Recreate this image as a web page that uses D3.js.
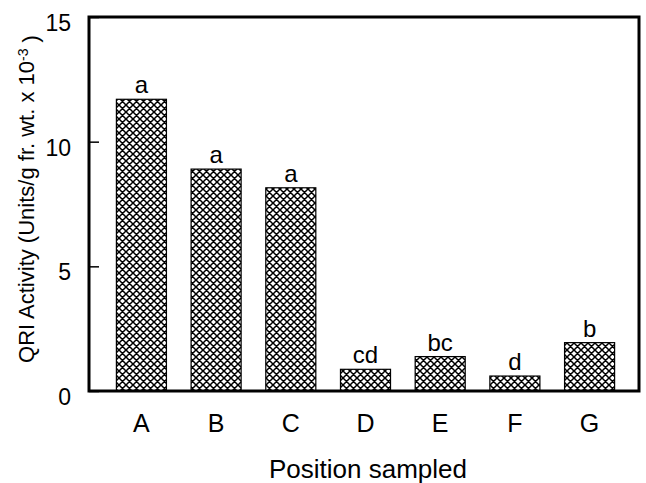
<!DOCTYPE html>
<html lang="en">
<head>
    <meta charset="utf-8">
    <title>QRI Activity by Position sampled</title>
    <script type="text/javascript" src="https://d3js.org/d3.v7.min.js"></script>
    <style>
        body { margin: 0; background: #fff; }
        text { font-family: "Liberation Sans", Arial, Helvetica, sans-serif; fill: #000; }
    </style>
</head>
<body>
    <div id="chart"></div>

    <script type="text/javascript">

        // Data
        var positions = ["A", "B", "C", "D", "E", "F", "G"];
        var activity = [11.7, 8.9, 8.15, 0.87, 1.38, 0.6, 1.94];
        var groupLetters = ["a", "a", "a", "cd", "bc", "d", "b"];
        var yTicks = [0, 5, 10, 15];

        var svgWidth = 646;
        var svgHeight = 483;

        // Plot frame (note: "top" is a reserved window property, so use other names)
        var plotLeft = 89, plotRight = 639, plotTop = 17, plotBottom = 391;

        var svg = d3.select("#chart").append("svg")
            .attr("width", svgWidth)
            .attr("height", svgHeight);

        // Cross-hatch fill
        var pattern = svg.append("defs").append("pattern")
            .attr("id", "xhatch")
            .attr("patternUnits", "userSpaceOnUse")
            .attr("width", 7)
            .attr("height", 7);
        pattern.append("rect")
            .attr("width", 7)
            .attr("height", 7)
            .attr("fill", "#fff");
        pattern.append("path")
            .attr("d", "M-1,-1L8,8M-1,6L1,8M6,-1L8,1M8,-1L-1,8M-1,1L1,-1M6,8L8,6")
            .attr("stroke", "#000")
            .attr("stroke-width", 1.5);

        var x = d3.scaleBand()
            .domain(positions)
            .range([91, 640])
            .paddingInner(0.33)
            .paddingOuter(0.34);

        var y = d3.scaleLinear()
            .domain([0, 15])
            .range([plotBottom, plotTop]);

        var data = positions.map(function(p, i) {
            return { pos: p, value: activity[i], letter: groupLetters[i] };
        });

        // Bars
        svg.selectAll("rect.bar")
            .data(data)
            .enter()
            .append("rect")
            .attr("class", "bar")
            .attr("x", function(d) { return x(d.pos); })
            .attr("y", function(d) { return y(d.value); })
            .attr("width", x.bandwidth())
            .attr("height", function(d) { return y(0) - y(d.value); })
            .attr("fill", "url(#xhatch)")
            .attr("stroke", "#000")
            .attr("stroke-width", 1.2);

        // Significance letters
        svg.selectAll("text.letter")
            .data(data)
            .enter()
            .append("text")
            .attr("class", "letter")
            .attr("x", function(d) { return x(d.pos) + x.bandwidth() / 2; })
            .attr("y", function(d) { return y(d.value) - 6; })
            .attr("text-anchor", "middle")
            .style("font-size", "24px")
            .text(function(d) { return d.letter; });

        // Frame
        svg.append("rect")
            .attr("x", plotLeft)
            .attr("y", plotTop)
            .attr("width", plotRight - plotLeft)
            .attr("height", plotBottom - plotTop)
            .attr("fill", "none")
            .attr("stroke", "#000")
            .attr("stroke-width", 3);

        // Y axis (ticks point inward)
        var yAxis = svg.append("g")
            .attr("transform", "translate(" + plotLeft + ",0)")
            .call(d3.axisLeft(y).tickValues(yTicks).tickSize(-10).tickPadding(18));
        yAxis.select(".domain").remove();
        yAxis.selectAll(".tick line").attr("stroke", "#000").attr("stroke-width", 1.5);
        yAxis.selectAll(".tick text")
            .attr("dy", "0.58em")
            .style("font-size", "23px")
            .style("font-family", "'Liberation Sans', Arial, sans-serif");

        // Category labels
        svg.selectAll("text.cat")
            .data(positions)
            .enter()
            .append("text")
            .attr("class", "cat")
            .attr("x", function(d) { return x(d) + x.bandwidth() / 2; })
            .attr("y", 432)
            .attr("text-anchor", "middle")
            .style("font-size", "25px")
            .text(function(d) { return d; });

        // X axis title
        svg.append("text")
            .attr("x", 368)
            .attr("y", 478)
            .attr("text-anchor", "middle")
            .style("font-size", "26px")
            .text("Position sampled");

        // Y axis title
        var yTitle = svg.append("text")
            .attr("transform", "translate(34,199) rotate(-90)")
            .attr("text-anchor", "middle")
            .style("font-size", "22px");
        yTitle.append("tspan").text("QRI Activity (Units/g fr. wt. x 10");
        yTitle.append("tspan")
            .attr("dy", "-0.45em")
            .style("font-size", "14px")
            .text("-3");
        yTitle.append("tspan")
            .attr("dy", "0.45em")
            .text(" )");

    </script>
</body>
</html>
